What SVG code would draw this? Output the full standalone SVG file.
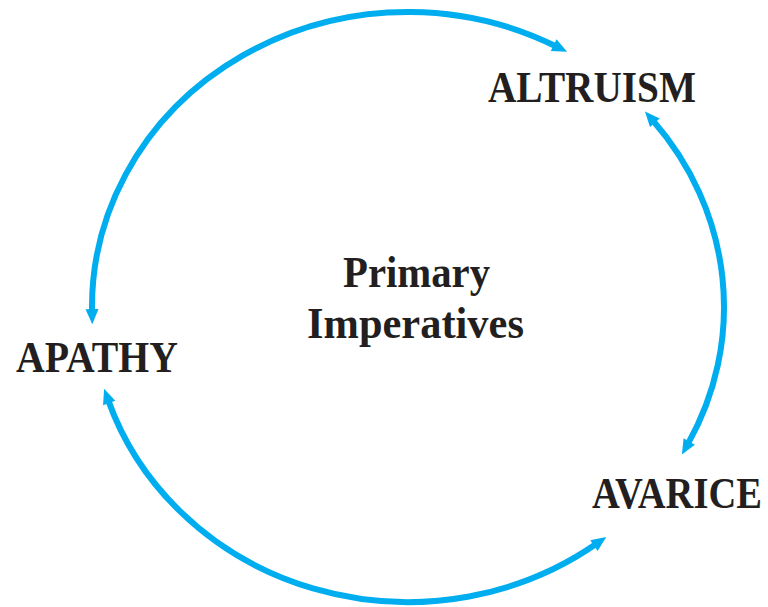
<svg xmlns="http://www.w3.org/2000/svg" width="768" height="607" viewBox="0 0 768 607">
  <style>
    .arc { fill: none; stroke: #00AEEF; stroke-width: 6; marker-start: url(#ah); marker-end: url(#ah); }
    .lbl { font-family: "Liberation Serif", "Times New Roman", serif; font-weight: bold; font-size: 45px; fill: #231F20; }
  </style>
  <defs>
    <marker id="ah" markerUnits="userSpaceOnUse" viewBox="-2 -8 19 16" markerWidth="19" markerHeight="16" refX="3" refY="0" orient="auto-start-reverse">
      <path d="M0,-6.5 L15,0 L0,6.5 Z" fill="#00AEEF"/>
    </marker>
  </defs>
  <rect width="768" height="607" fill="#FFFFFF"/>
  <g id="connectors">
    <path class="arc" d="M92.05,312.15 A316,295 0 0 1 556.35,46.53"/>
    <path class="arc" d="M652.88,120.55 A316,295 0 0 1 687.78,444.13"/>
    <path class="arc" d="M596.41,543.83 A316,295 0 0 1 108.15,400.12"/>
  </g>
  <g id="altruism"><text class="lbl" transform="translate(488,102) scale(0.84,1)" textLength="247.6" lengthAdjust="spacingAndGlyphs">ALTRUISM</text></g>
  <g id="apathy"><text class="lbl" transform="translate(16,372) scale(0.84,1)" textLength="192.9" lengthAdjust="spacingAndGlyphs">APATHY</text></g>
  <g id="avarice"><text class="lbl" transform="translate(592,508) scale(0.84,1)" textLength="202.4" lengthAdjust="spacingAndGlyphs">AVARICE</text></g>
  <g id="center">
    <text class="lbl" transform="translate(343,287) scale(0.84,1)" textLength="175" lengthAdjust="spacingAndGlyphs">Primary</text>
    <text class="lbl" transform="translate(307,338) scale(0.84,1)" textLength="258.3" lengthAdjust="spacingAndGlyphs">Imperatives</text>
  </g>
</svg>
